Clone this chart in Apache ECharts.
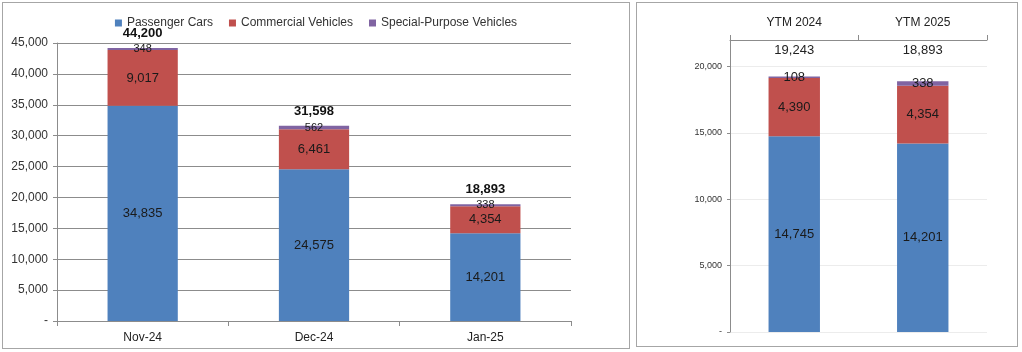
<!DOCTYPE html>
<html>
<head>
<meta charset="utf-8">
<script src="https://cdn.jsdelivr.net/npm/echarts@6/dist/echarts.min.js"></script>
<style>
  html, body { margin: 0; padding: 0; background: #fff; }
  body { width: 1022px; height: 352px; position: relative; overflow: hidden; }
  .panel { position: absolute; box-sizing: border-box; border: 1px solid #a6a6a6; }
  .panel > div { position: absolute; left: 0; top: 0; right: 0; bottom: 0; }
  #leftBox { left: 2px; top: 2px; width: 628px; height: 347px; }
  #rightBox { left: 636px; top: 2px; width: 382px; height: 345px; }
</style>
</head>
<body>
<div class="panel" id="leftBox"><div id="leftChart"></div></div>
<div class="panel" id="rightBox"><div id="rightChart"></div></div>
<script>
// monthly data
const months = ["Nov-24", "Dec-24", "Jan-25"];
const monthPassenger = [34835, 24575, 14201];
const monthCommercial = [9017, 6461, 4354];
const monthSpecial = [348, 562, 338];

// year-to-month data
const ytmLabels = ["YTM 2024", "YTM 2025"];
const ytmPassenger = [14745, 14201];
const ytmCommercial = [4390, 4354];
const ytmSpecial = [108, 338];

const seriesNames = ["Passenger Cars", "Commercial Vehicles", "Special-Purpose Vehicles"];
const colors = ["#4f81bd", "#c0504d", "#8064a2"];
const fontFamily = "Liberation Sans, Arial, sans-serif";

const fmt = (v) => (v === 0 ? "-" : Number(v).toLocaleString("en-US"));
const sumOf = (a, b, c) => a.map((v, i) => v + b[i] + c[i]);

const monthTotal = sumOf(monthPassenger, monthCommercial, monthSpecial);
const ytmTotal = sumOf(ytmPassenger, ytmCommercial, ytmSpecial);

const segLabel = (size) => ({
  show: true,
  position: "inside",
  color: "#1a1a1a",
  fontSize: size,
  fontFamily: fontFamily,
  formatter: (p) => fmt(p.value)
});

// left chart
const leftChart = echarts.init(document.getElementById("leftChart"));
leftChart.setOption({
  animation: false,
  textStyle: { fontFamily: fontFamily },
  color: colors,
  legend: {
    data: seriesNames,
    top: 9,
    left: "center",
    icon: "rect",
    itemWidth: 7,
    itemHeight: 7,
    itemGap: 16,
    textStyle: { fontSize: 12, color: "#333" }
  },
  grid: { left: 54, top: 40, width: 514, height: 278 },
  xAxis: {
    type: "category",
    data: months,
    axisLine: { lineStyle: { color: "#8c8c8c" } },
    axisTick: { show: true, length: 5, lineStyle: { color: "#8c8c8c" } },
    axisLabel: { margin: 11, fontSize: 12, color: "#222" }
  },
  yAxis: {
    type: "value",
    min: 0,
    max: 45000,
    interval: 5000,
    axisLine: { show: true, lineStyle: { color: "#8c8c8c" } },
    axisTick: { show: true, length: 4, lineStyle: { color: "#8c8c8c" } },
    axisLabel: { fontSize: 12, color: "#333", margin: 9, formatter: fmt },
    splitLine: { lineStyle: { color: "#8c8c8c" } }
  },
  series: [
    { name: seriesNames[0], type: "bar", stack: "m", barWidth: "41%", data: monthPassenger, label: segLabel(13) },
    { name: seriesNames[1], type: "bar", stack: "m", data: monthCommercial, label: segLabel(13) },
    { name: seriesNames[2], type: "bar", stack: "m", data: monthSpecial, label: segLabel(11) },
    {
      name: "Total",
      type: "bar",
      stack: "m",
      data: monthTotal.map(() => 0),
      itemStyle: { color: "transparent" },
      label: {
        show: true,
        position: "top",
        distance: 8,
        fontSize: 13,
        fontWeight: "bold",
        color: "#111",
        formatter: (p) => fmt(monthTotal[p.dataIndex])
      }
    }
  ]
});

// right chart
const rightChart = echarts.init(document.getElementById("rightChart"));
rightChart.setOption({
  animation: false,
  textStyle: { fontFamily: fontFamily },
  color: colors,
  grid: { left: 93, top: 37, width: 257, height: 292 },
  xAxis: [
    {
      type: "category",
      position: "top",
      data: ytmLabels,
      axisLine: { onZero: false, lineStyle: { color: "#8c8c8c" } },
      axisTick: { show: true, length: 5, lineStyle: { color: "#8c8c8c" } },
      axisLabel: { margin: 11, fontSize: 12, color: "#222" }
    },
    {
      type: "category",
      position: "top",
      data: ytmTotal.map(fmt),
      axisLine: { show: false, onZero: false },
      axisTick: { show: false },
      axisLabel: { inside: true, margin: 4, fontSize: 13, color: "#222" }
    }
  ],
  yAxis: {
    type: "value",
    min: 0,
    max: 22000,
    interval: 5000,
    axisLine: { show: true, lineStyle: { color: "#8c8c8c" } },
    axisTick: { show: true, length: 3, lineStyle: { color: "#8c8c8c" } },
    axisLabel: { fontSize: 9, color: "#333", margin: 8, formatter: fmt, showMaxLabel: false },
    splitLine: { lineStyle: { color: "#ececec" } }
  },
  series: [
    { name: seriesNames[0], type: "bar", stack: "y", barWidth: "40%", data: ytmPassenger, label: segLabel(13) },
    { name: seriesNames[1], type: "bar", stack: "y", data: ytmCommercial, label: segLabel(13) },
    { name: seriesNames[2], type: "bar", stack: "y", data: ytmSpecial, label: segLabel(13) }
  ]
});
</script>
</body>
</html>
